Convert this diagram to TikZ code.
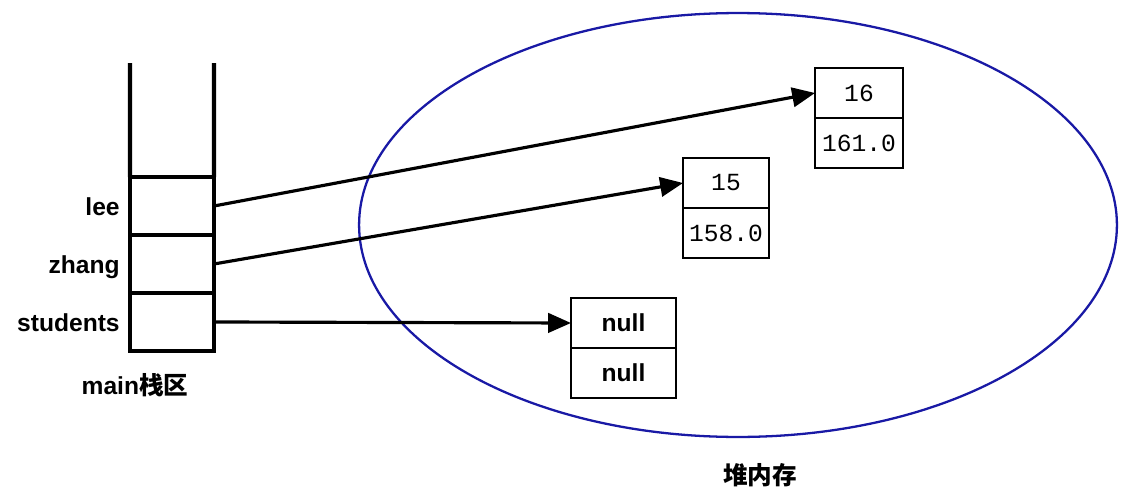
\documentclass[tikz,border=0pt]{standalone}
\usepackage{fontspec}
\setmainfont{Liberation Sans}
\newfontfamily\cjk{Noto Sans CJK SC}
\newfontfamily\numfont{Liberation Mono}
\usepackage{xcolor}
\usetikzlibrary{positioning,arrows.meta}
\definecolor{heapblue}{RGB}{25,25,165}

\begin{document}
\begin{tikzpicture}[x=0.02cm, y=-0.02cm,
    cell/.style={draw, line width=2.3pt, minimum width=1.68cm, minimum height=1.16cm, inner sep=0pt, outer sep=0pt},
    field/.style={draw, line width=1.1pt, minimum height=1cm, inner sep=0pt, outer sep=0pt, font=\fontsize{14}{16}\selectfont},
    varname/.style={font=\fontsize{14}{16}\selectfont\bfseries, inner sep=0pt, text height=10pt, text depth=3pt, left=0.2cm, yshift=-1.7pt},
    ref/.style={-{Triangle[length=13pt, width=11pt]}, line width=1.8pt}]
    \useasboundingbox (0,0) rectangle (1126,497);

    % stack
    \node[cell] (lee) at (172,206) {};
    \node[cell, below=0pt of lee] (zhang) {};
    \node[cell, below=0pt of zhang] (students) {};
    \coordinate (topL) at (130,63);
    \coordinate (topR) at (214,63);
    \draw[line width=2.3pt] (lee.north west) -- (topL);
    \draw[line width=2.3pt] (lee.north east) -- (topR);

    \node[varname] (leeLbl) at (lee.west) {lee};
    \node[varname] (zhangLbl) at (zhang.west) {zhang};
    \node[varname] (studentsLbl) at (students.west) {students};
    \node[font=\fontsize{14}{16}\selectfont\bfseries] (stackLbl) at (135,385) {main{\cjk 栈区}};

    % heap
    \draw[heapblue, line width=1.3pt] (738,225) ellipse [x radius=7.58cm, y radius=4.24cm];
    \node[font=\fontsize{14}{16}\selectfont\cjk\bfseries] (heapLbl) at (760,475) {堆内存};

    \node[field, minimum width=1.76cm, font=\fontsize{14}{16}\selectfont\numfont] (age16) at (859,93) {16};
    \node[field, minimum width=1.76cm, font=\fontsize{14}{16}\selectfont\numfont, below=0pt of age16] (h161) {161.0};
    \node[field, minimum width=1.72cm, font=\fontsize{14}{16}\selectfont\numfont] (age15) at (726,183) {15};
    \node[field, minimum width=1.72cm, font=\fontsize{14}{16}\selectfont\numfont, below=0pt of age15] (h158) {158.0};
    \node[field, minimum width=2.1cm, font=\fontsize{14}{16}\selectfont\bfseries] (nullA) at (623.5,323) {null};
    \node[field, minimum width=2.1cm, font=\fontsize{14}{16}\selectfont\bfseries, below=0pt of nullA] (nullB) {null};

    % references
    \draw[ref] (lee.east) -- (age16.west);
    \draw[ref] (zhang.east) -- (age15.west);
    \draw[ref] (students.east) -- (nullA.west);
\end{tikzpicture}
\end{document}
